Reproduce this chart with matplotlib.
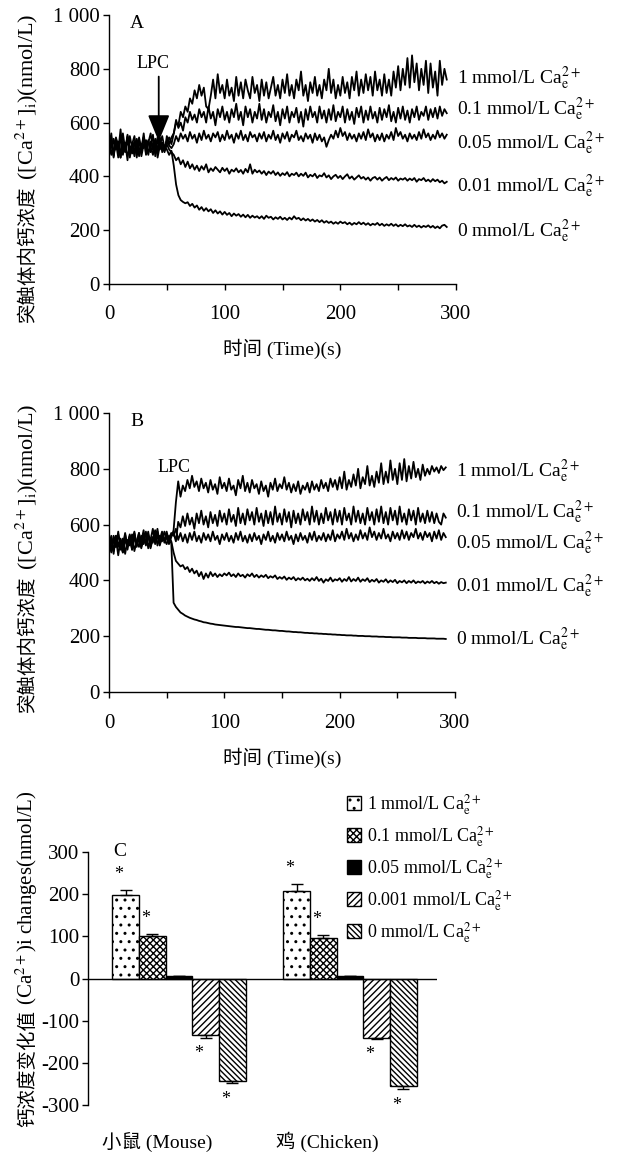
import numpy as np
import matplotlib.pyplot as plt
from matplotlib.patches import Patch

plt.rcParams['font.family'] = ['Liberation Serif', 'Noto Sans CJK SC']
plt.rcParams['mathtext.fontset'] = 'stix'
plt.rcParams['axes.unicode_minus'] = False
plt.rcParams['hatch.linewidth'] = 1.0

# traces sampled every 2 s, values in nmol/L
dt = 2

# panel A
a_1 = [510, 560, 470, 540, 495, 575, 480, 525, 460, 550, 505, 530, 470, 545, 500, 560, 485, 530, 510, 555, 475, 540, 500, 525, 490, 550, 520, 545,
       560, 600, 590, 640, 620, 660, 640, 690, 670, 720, 690, 740, 700, 730, 660, 650, 700, 760, 690, 780, 710, 740, 690, 760, 700, 730,
       680, 770, 700, 750, 690, 760, 720, 690, 770, 710, 740, 680, 760, 700, 750, 690, 730, 770, 700, 740, 690, 760, 710, 780, 700, 740,
       690, 760, 720, 790, 700, 740, 680, 750, 710, 770, 700, 740, 690, 760, 720, 800, 710, 760, 690, 740, 700, 770, 710, 750, 690, 770,
       720, 790, 700, 760, 710, 780, 720, 770, 700, 790, 720, 760, 700, 780, 710, 760, 700, 790, 730, 810, 720, 800, 740, 840, 730, 850,
       750, 820, 720, 800, 740, 830, 710, 820, 730, 790, 700, 830, 740, 800, 760]
a_01 = [495, 530, 475, 545, 510, 490, 560, 500, 535, 470, 520, 550, 485, 530, 505, 545, 480, 525, 560, 500, 540, 470, 515, 550, 505, 530, 545, 520,
        560, 610, 580, 600, 570, 620, 600, 640, 610, 630, 600, 650, 620, 640, 600, 660, 615, 640, 590, 650, 620, 660, 610, 640, 600, 650,
        620, 670, 610, 640, 590, 660, 620, 650, 600, 640, 615, 670, 610, 650, 600, 640, 620, 665, 605, 640, 590, 650, 615, 660, 600, 640,
        620, 655, 600, 640, 585, 650, 610, 660, 620, 640, 600, 660, 615, 645, 600, 650, 610, 665, 605, 640, 620, 660, 600, 650, 610, 640,
        595, 655, 620, 660, 600, 645, 610, 660, 615, 640, 600, 655, 610, 650, 620, 665, 605, 640, 600, 655, 615, 660, 610, 645, 600, 650,
        620, 660, 610, 640, 625, 660, 610, 650, 620, 655, 615, 660, 625, 650, 635]
a_005 = [515, 480, 540, 500, 530, 470, 520, 495, 545, 505, 485, 525, 500, 540, 475, 520, 505, 535, 490, 515, 500, 545, 510, 525, 495, 530, 515, 505,
         520, 550, 530, 560, 540, 555, 530, 565, 540, 555, 525, 560, 535, 570, 540, 555, 530, 560, 545, 565, 530, 555, 535, 570, 540, 555,
         525, 560, 540, 570, 535, 555, 530, 565, 545, 555, 530, 560, 540, 565, 530, 555, 540, 570, 535, 555, 525, 560, 540, 565, 530, 555,
         545, 570, 535, 550, 530, 560, 540, 555, 525, 560, 535, 555, 530, 545, 510, 535, 555, 540, 570, 545, 580, 550, 565, 535, 560, 540,
         555, 530, 560, 540, 565, 535, 575, 545, 560, 530, 555, 535, 560, 530, 555, 540, 565, 535, 580, 550, 565, 540, 555, 530, 560, 540,
         555, 535, 565, 540, 575, 545, 560, 535, 555, 540, 570, 545, 560, 540, 555]
a_001 = [500, 545, 485, 525, 470, 540, 510, 490, 555, 500, 520, 475, 535, 505, 490, 545, 510, 480, 530, 500, 520, 485, 540, 505, 495, 520, 500, 490,
         480, 460, 470, 445, 460, 435, 455, 430, 445, 425, 440, 420, 438, 425, 445, 415, 430, 420, 435, 425, 415, 432, 420, 430, 410, 425,
         418, 430, 415, 424, 410, 428, 415, 445, 410, 425, 415, 422, 410, 420, 405, 418, 410, 420, 405, 415, 402, 412, 405, 416, 400, 410,
         405, 414, 400, 410, 402, 414, 396, 406, 400, 410, 394, 404, 400, 412, 396, 404, 390, 400, 406, 394, 402, 390, 400, 408, 392, 400,
         388, 396, 404, 392, 398, 388, 396, 384, 394, 398, 388, 396, 384, 392, 398, 386, 394, 388, 396, 384, 392, 388, 394, 384, 392, 386,
         394, 380, 390, 386, 394, 382, 388, 380, 390, 382, 388, 378, 384, 374, 380]
a_0 = [490, 520, 480, 540, 505, 470, 530, 500, 550, 485, 515, 495, 540, 475, 520, 505, 535, 490, 510, 480, 530, 500, 545, 490, 515, 500, 480, 495,
       440, 370, 330, 312, 305, 300, 304, 290, 298, 284, 292, 276, 286, 272, 282, 270, 278, 264, 274, 262, 270, 258, 268, 257, 264, 252,
       262, 254, 260, 250, 258, 248, 257, 246, 254, 247, 252, 244, 252, 242, 254, 246, 250, 240, 248, 242, 250, 240, 246, 238, 247, 240,
       252, 242, 246, 237, 244, 236, 242, 234, 240, 232, 238, 230, 237, 228, 234, 227, 232, 224, 230, 224, 232, 226, 230, 222, 228, 220,
       227, 222, 230, 222, 228, 220, 226, 218, 224, 220, 227, 218, 224, 216, 222, 217, 224, 216, 222, 214, 220, 215, 222, 214, 218, 212,
       220, 212, 217, 210, 216, 212, 218, 210, 216, 208, 214, 207, 217, 220, 212]

# panel B
b_1 = [505, 550, 495, 560, 520, 545, 500, 565, 525, 555, 510, 570, 530, 550, 515, 560, 535, 575, 520, 555, 540, 585, 530, 560, 545, 575, 540, 555,
       580, 680, 755, 700, 740, 720, 760, 730, 775, 735, 755, 720, 765, 730, 750, 715, 760, 725, 745, 710, 770, 730, 750, 720, 765, 725,
       740, 705, 760, 730, 775, 720, 750, 715, 760, 730, 745, 710, 755, 720, 740, 700, 750, 725, 765, 720, 745, 730, 770, 725, 750, 715,
       745, 720, 755, 710, 740, 725, 750, 715, 755, 725, 745, 720, 760, 730, 750, 720, 765, 735, 760, 725, 770, 730, 790, 725, 760, 735,
       780, 740, 800, 730, 770, 745, 810, 740, 775, 735, 790, 750, 820, 745, 790, 750, 830, 760, 800, 745, 820, 760, 835, 755, 810, 765,
       825, 770, 800, 760, 815, 775, 800, 780, 810, 790, 805, 785, 810, 795, 805]
b_01 = [540, 500, 560, 520, 575, 510, 550, 495, 545, 525, 565, 505, 540, 520, 560, 530, 575, 515, 550, 535, 580, 525, 560, 540, 575, 550, 530, 560,
        570, 540, 610, 590, 630, 595, 640, 600, 625, 585, 640, 605, 650, 600, 630, 590, 645, 605, 635, 595, 650, 610, 640, 600, 655, 610,
        635, 595, 660, 605, 640, 600, 655, 615, 645, 600, 660, 610, 640, 595, 650, 605, 645, 600, 665, 610, 640, 600, 655, 610, 645, 590,
        650, 605, 640, 600, 655, 615, 645, 600, 665, 610, 650, 600, 640, 605, 660, 615, 645, 600, 655, 610, 650, 600, 660, 615, 640, 600,
        665, 610, 650, 605, 640, 600, 660, 615, 645, 600, 655, 610, 665, 605, 645, 600, 660, 615, 650, 600, 665, 610, 640, 600, 655, 615,
        650, 600, 660, 610, 640, 605, 650, 610, 645, 605, 640, 610, 600, 640, 625]
b_005 = [530, 560, 505, 550, 490, 545, 525, 570, 510, 555, 535, 575, 520, 550, 540, 580, 525, 560, 545, 585, 530, 555, 545, 575, 535, 560, 550, 570,
         560, 585, 545, 570, 540, 565, 535, 570, 545, 575, 540, 560, 535, 570, 545, 565, 540, 575, 545, 560, 530, 565, 545, 570, 540, 560,
         535, 570, 545, 575, 540, 560, 535, 565, 540, 570, 545, 560, 530, 565, 545, 575, 540, 560, 535, 570, 545, 565, 540, 575, 545, 560,
         530, 565, 540, 570, 545, 560, 535, 570, 545, 575, 540, 560, 545, 570, 540, 565, 545, 580, 540, 565, 550, 575, 545, 585, 550, 570,
         540, 565, 545, 580, 550, 570, 545, 590, 555, 575, 545, 570, 550, 585, 550, 565, 540, 575, 550, 570, 545, 580, 550, 575, 545, 570,
         555, 585, 550, 570, 545, 575, 555, 570, 540, 575, 550, 580, 545, 570, 555]
b_001 = [535, 505, 550, 520, 565, 530, 500, 545, 525, 560, 510, 550, 535, 570, 520, 545, 530, 565, 515, 550, 540, 575, 525, 555, 545, 530, 560, 540,
         500, 470, 460, 450, 455, 440, 448, 430, 442, 425, 435, 415, 430, 405, 425, 410, 430, 415, 425, 412, 422, 415, 425, 418, 428, 415,
         422, 412, 425, 415, 420, 410, 422, 415, 425, 412, 420, 410, 418, 412, 420, 408, 415, 410, 418, 405, 412, 406, 414, 402, 410, 404,
         412, 400, 408, 402, 410, 400, 406, 398, 408, 400, 412, 398, 406, 392, 404, 398, 410, 396, 404, 400, 408, 395, 405, 398, 412, 396,
         405, 398, 410, 395, 404, 398, 408, 394, 402, 396, 405, 392, 400, 395, 404, 392, 400, 394, 402, 390, 398, 393, 400, 390, 398, 392,
         400, 390, 396, 392, 398, 389, 396, 391, 398, 390, 395, 388, 394, 390, 392]
b_0 = [545, 515, 540, 560, 525, 550, 505, 545, 530, 565, 520, 550, 535, 570, 525, 545, 540, 560, 530, 555, 545, 565, 535, 550, 545, 560, 540, 535,
       320, 305, 295, 285, 280, 274, 270, 266, 263, 260, 258, 255, 253, 250, 249, 247, 245, 244, 242, 241, 240, 239, 238, 237, 236, 235,
       234, 233, 233, 232, 231, 230, 229, 229, 228, 227, 226, 226, 225, 224, 223, 223, 222, 221, 221, 220, 219, 219, 218, 217, 217, 216,
       215, 215, 214, 214, 213, 212, 212, 211, 211, 210, 210, 209, 209, 208, 208, 207, 207, 206, 206, 205, 205, 204, 204, 203, 203, 203,
       202, 202, 201, 201, 201, 200, 200, 200, 199, 199, 199, 198, 198, 198, 197, 197, 197, 196, 196, 196, 196, 195, 195, 195, 194, 194,
       194, 194, 193, 193, 193, 193, 192, 192, 192, 192, 191, 191, 191, 191, 190]

trace_conc = ['1', '0.1', '0.05', '0.01', '0']

# panel C
groups = ['小鼠 (Mouse)', '鸡 (Chicken)']
bar_conc = ['1', '0.1', '0.05', '0.001', '0']
mouse_val = [197, 101, 5, -133, -244]
mouse_err = [14, 5, 2, 7, 5]
chicken_val = [208, 96, 5, -140, -255]
chicken_err = [17, 7, 2, 3, 7]
significant = [True, True, False, True, True]

ca_e = r'Ca$_{\mathrm{e}}^{2+}$'
fs = 14
W, H = 618, 1155

fig = plt.figure(figsize=(W / 100, H / 100), dpi=100)


def split_ylabel(px, py, cjk, rest, rest_size):
    # Chinese part below the anchor, math part above it, both rotated
    x, y = px / W, 1 - py / H
    fig.text(x, y, cjk, rotation=90, rotation_mode='anchor', ha='right',
             va='baseline', fontsize=fs)
    fig.text(x, y, rest, rotation=90, rotation_mode='anchor', ha='left',
             va='baseline', fontsize=rest_size)


def trace_panel(rect, traces, letter, label_y, xpad, xlabelpad):
    ax = fig.add_axes(rect)
    for v in traces:
        t = np.arange(len(v)) * dt
        ax.plot(t, v, color='black', lw=1.3)
    ax.set_xlim(0, 300)
    ax.set_ylim(0, 1000)
    ax.set_xticks(np.arange(0, 301, 50))
    ax.set_xticklabels(['0', '', '100', '', '200', '', '300'])
    ax.set_yticks(np.arange(0, 1001, 200))
    ax.set_yticklabels(['0', '200', '400', '600', '800', '1 000'])
    ax.tick_params(labelsize=15, length=4.5, width=1, direction='out')
    ax.tick_params(axis='x', pad=xpad)
    ax.tick_params(axis='y', pad=2)
    for s in ['top', 'right']:
        ax.spines[s].set_visible(False)
    for s in ['left', 'bottom']:
        ax.spines[s].set_linewidth(1.0)
    ax.set_xlabel('时间 (Time)(s)', fontsize=fs, labelpad=xlabelpad)
    ax.text(0.08, 0.97, letter, transform=ax.transAxes, fontsize=fs,
            ha='center', va='center')
    for c, y in zip(trace_conc, label_y):
        ax.text(301, y, c + ' mmol/L ' + ca_e, fontsize=fs, ha='left',
                va='center', clip_on=False)
    return ax


axa = trace_panel([109 / W, 1 - 284 / H, 347 / W, 269 / H],
                  [a_1, a_01, a_005, a_001, a_0], 'A',
                  [766, 648, 522, 362, 196], 10.5, 10.5)
axa.text(38, 820, 'LPC', fontsize=13, ha='center', va='center')
axa.annotate('', xy=(43, 530), xytext=(43, 771),
             arrowprops=dict(arrowstyle='-|>,head_length=1.1,head_width=0.45',
                             color='black', lw=1.3, mutation_scale=15,
                             shrinkA=0, shrinkB=0))
split_ylabel(33, 185, '突触体内钙浓度', r' ([Ca$^{2+}$]$_{\mathrm{i}}$)(nmol/L)', 16)

axb = trace_panel([109 / W, 1 - 692 / H, 346 / W, 279 / H],
                  [b_1, b_01, b_005, b_001, b_0], 'B',
                  [790, 646, 534, 378, 188], 11, 11)
axb.text(56, 803, 'LPC', fontsize=13, ha='center', va='center')
split_ylabel(33, 575, '突触体内钙浓度', r' ([Ca$^{2+}$]$_{\mathrm{i}}$)(nmol/L)', 16)

# panel C
axc = fig.add_axes([88 / W, 1 - 1105 / H, 349 / W, 253 / H])
width = 0.156
styles = [dict(facecolor='white', hatch='..'),
          dict(facecolor='white', hatch='xxxxx'),
          dict(facecolor='black', hatch=None),
          dict(facecolor='white', hatch='/////'),
          dict(facecolor='white', hatch='\\\\\\\\\\\\')]
centers = np.arange(len(groups))
for gi, (vals, errs) in enumerate([(mouse_val, mouse_err), (chicken_val, chicken_err)]):
    for k in range(len(bar_conc)):
        x = centers[gi] + (k - 2) * width
        v = vals[k]
        e = errs[k]
        axc.bar(x, v, width=width, edgecolor='black', lw=1.0, **styles[k])
        yerr = [[0], [e]] if v >= 0 else [[e], [0]]
        axc.errorbar(x, v, yerr=yerr, fmt='none', ecolor='black', elinewidth=1.0,
                     capsize=4, capthick=1.0)
        if significant[k]:
            sy = v + e + 36 if v >= 0 else v - e - 38
            axc.text(x - 0.04, sy, '*', fontsize=13, ha='center', va='center')

axc.axhline(0, color='black', lw=1.0)
axc.set_xlim(-0.532, 1.509)
axc.set_ylim(-300, 300)
axc.set_yticks(np.arange(-300, 301, 100))
axc.set_xticks([])
for s in ['top', 'right', 'bottom']:
    axc.spines[s].set_visible(False)
axc.spines['left'].set_linewidth(1.0)
axc.tick_params(labelsize=15, length=4, width=1, direction='out', pad=2)
split_ylabel(33, 1010, '钙浓度变化值', r' (Ca$^{2+}$)i changes(nmol/L)', 15)
axc.text(-0.345, 300, 'C', fontsize=fs, ha='center', va='center')
for gi, g in enumerate(groups):
    axc.text(centers[gi] - 0.13, -0.146, g, fontsize=fs, ha='center', va='center',
             transform=axc.get_xaxis_transform())

handles = [Patch(edgecolor='black', lw=1.0, **st) for st in styles]
labels = [c + ' mmol/L ' + ca_e for c in bar_conc]
fig.legend(handles, labels, loc='upper left', bbox_to_anchor=(347 / W, 1 - 792 / H),
           frameon=False, fontsize=13, handlelength=0.8, handleheight=0.8,
           handletextpad=0.3, labelspacing=0.4, borderaxespad=0, borderpad=0)

fig.savefig('out.png', dpi=100)
